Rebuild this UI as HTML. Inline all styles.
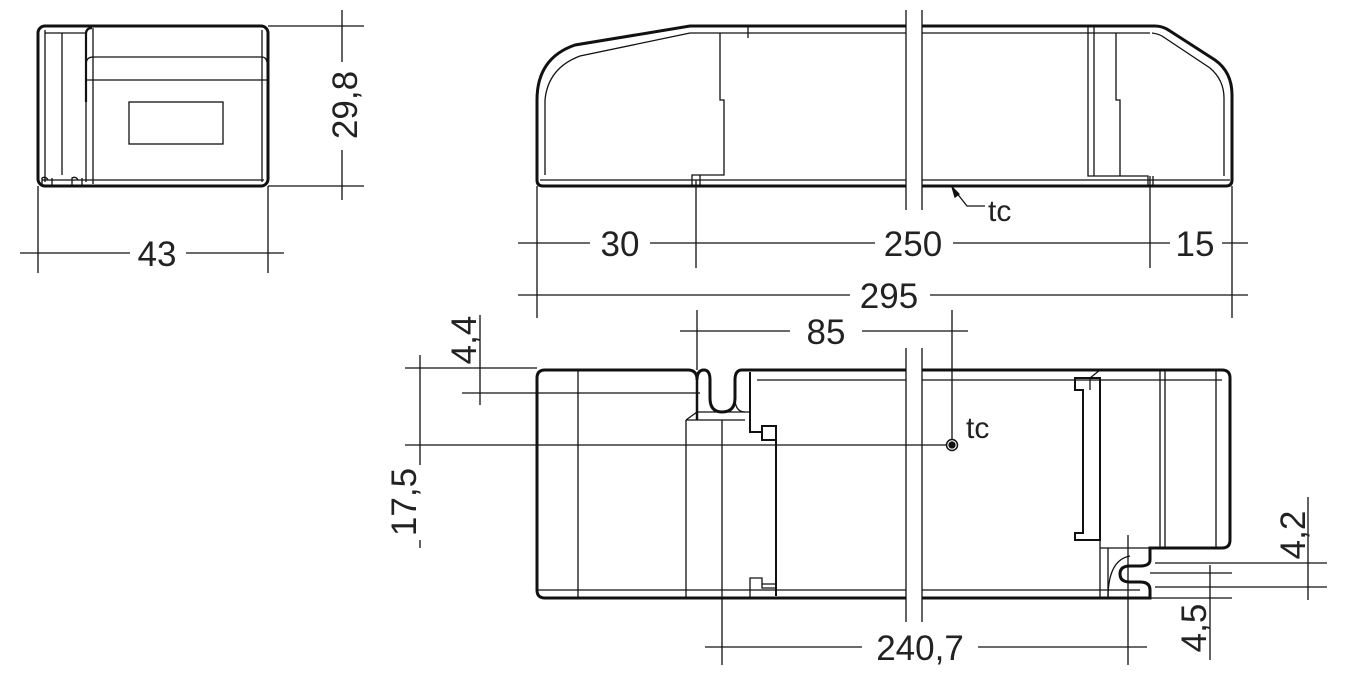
<!DOCTYPE html>
<html><head><meta charset="utf-8"><style>
html,body{margin:0;padding:0;background:#fff;}
svg{display:block}
text{font-family:"Liberation Sans",sans-serif;font-size:35px;fill:#222;}
</style></head><body>
<svg width="1351" height="698" viewBox="0 0 1351 698" xmlns="http://www.w3.org/2000/svg">
<g fill="none" stroke="#111" stroke-width="1.3">
<!-- LEFT END VIEW -->
<rect x="38" y="26" width="230" height="160" rx="7" stroke-width="3"/>
<line x1="45" y1="30" x2="45" y2="182"/>
<line x1="62" y1="33" x2="62" y2="175"/>
<line x1="45" y1="33" x2="85" y2="33"/>
<path d="M86 102 V34 Q86 28 92 28" stroke-width="2.2"/>
<line x1="86" y1="102" x2="86" y2="182"/>
<line x1="93" y1="28" x2="93" y2="184"/>
<line x1="262" y1="30" x2="262" y2="182"/>
<path d="M86 63 Q87 57 93 57 H262 Q266 57 267 62"/>
<line x1="86" y1="80" x2="267" y2="80"/>
<rect x="129" y="102" width="94" height="42"/>
<line x1="42" y1="180" x2="264" y2="180"/>
<path d="M42 186 V178 Q46 176 48 180 M52 186 V178 M72 186 V178 Q76 176 78 180 M82 186 V178"/>
<!-- dims left -->
<line x1="268" y1="26" x2="364" y2="26"/>
<line x1="268" y1="186" x2="364" y2="186"/>
<line x1="342" y1="10" x2="342" y2="62"/>
<line x1="342" y1="150" x2="342" y2="200"/>
<line x1="38" y1="186" x2="38" y2="273"/>
<line x1="268" y1="186" x2="268" y2="273"/>
<line x1="20" y1="253" x2="130" y2="253"/>
<line x1="186" y1="253" x2="284" y2="253"/>

<!-- TOP SIDE VIEW -->
<path d="M537 180 V100 Q537 58 575 45 L690 26 H1155 Q1163 26 1170 31 L1215 60 Q1232 72 1232 95 V180 Q1232 186 1226 186 H543 Q537 186 537 180 Z" stroke-width="3"/>
<path d="M545 175 V100 Q548 68 580 56 L690 33"/>
<line x1="690" y1="33" x2="1150" y2="33"/>
<path d="M1152 33 Q1160 34 1165 38 L1210 68 Q1224 80 1224 98 V176"/>
<line x1="540" y1="180" x2="1230" y2="180"/>
<path d="M720 33 V100 H724 V175 H692 V186 M696 180 V186 M700 175 V186"/>
<line x1="748" y1="26" x2="748" y2="38"/>
<path d="M1088 26 V176 H1148 V186 M1094 26 V176 M1116 33 V100 H1120 V176 M1150 176 V186 M1153 176 V186"/>
<!-- break -->
<rect x="906" y="0" width="16" height="215" fill="#fff" stroke="none"/>
<line x1="906" y1="10" x2="906" y2="210"/>
<line x1="922" y1="10" x2="922" y2="210"/>
<!-- tc leader -->
<path d="M952 187 L967 206 H985"/>
<path d="M952 187 L955 197 L959 194 Z" fill="#111"/>
<!-- dims top -->
<line x1="537" y1="186" x2="537" y2="318"/>
<line x1="1232" y1="186" x2="1232" y2="318"/>
<line x1="696" y1="186" x2="696" y2="268"/>
<line x1="1150" y1="186" x2="1150" y2="268"/>
<line x1="518" y1="243" x2="590" y2="243"/>
<line x1="650" y1="243" x2="875" y2="243"/>
<line x1="953" y1="243" x2="1170" y2="243"/>
<line x1="1222" y1="243" x2="1248" y2="243"/>
<line x1="518" y1="295" x2="850" y2="295"/>
<line x1="930" y1="295" x2="1248" y2="295"/>

<!-- BOTTOM VIEW -->
<path d="M545 370 H688 Q696 370 697 378 V380 Q697 370 704 370 Q710 370 710 380 V398 Q710 412 722 412 Q735 412 735 398 V380 Q735 370 742 370 H1222 Q1230 370 1230 378 V540 Q1230 548 1222 548 H1150 V560 Q1150 566 1140 566 H1130 Q1120 566 1120 574 Q1120 582 1130 582 H1140 Q1150 582 1150 590 V598 H545 Q537 598 537 590 V378 Q537 370 545 370 Z" stroke-width="3"/>
<path d="M697 378 V420" stroke-width="2.5"/>
<line x1="578" y1="370" x2="578" y2="598"/>
<line x1="686" y1="420" x2="686" y2="598"/>
<line x1="686" y1="420" x2="745" y2="420"/>
<path d="M697 412 L686 420 M697 412 H750"/>
<path d="M735 398 Q735 412 745 412"/>
<path d="M750 372 V432 H762 V426 H776 V596 M762 432 V440 H776" stroke-width="2"/>
<path d="M750 598 V578 H762 V584 H776 M762 578 V588 H776"/>
<line x1="757" y1="380" x2="1222" y2="380"/>
<line x1="537" y1="590" x2="1140" y2="590"/>
<path d="M1075 378 H1100 V540 H1075 V533 H1083 V390 H1075 Z" stroke-width="2"/>
<path d="M1090 378 L1100 370 M1090 378 V390"/>
<line x1="1100" y1="548" x2="1150" y2="548"/>
<path d="M1100 540 V598 M1108 548 V598"/>
<path d="M1108 598 Q1108 560 1130 556"/>
<line x1="1160" y1="370" x2="1160" y2="548"/>
<line x1="1165" y1="370" x2="1165" y2="548"/>
<line x1="1216" y1="370" x2="1216" y2="548"/>
<!-- break -->
<rect x="906" y="345" width="16" height="280" fill="#fff" stroke="none"/>
<line x1="906" y1="348" x2="906" y2="622"/>
<line x1="922" y1="348" x2="922" y2="622"/>
<!-- tc dot -->
<circle cx="952" cy="445" r="5.5" stroke-width="1.5"/>
<circle cx="952" cy="445" r="3" fill="#111"/>
<!-- dims bottom -->
<line x1="697" y1="310" x2="697" y2="370"/>
<line x1="952" y1="310" x2="952" y2="440"/>
<line x1="680" y1="331" x2="790" y2="331"/>
<line x1="862" y1="331" x2="968" y2="331"/>
<line x1="405" y1="368" x2="537" y2="368"/>
<line x1="462" y1="393" x2="700" y2="393"/>
<line x1="480" y1="315" x2="480" y2="405"/>
<line x1="405" y1="445" x2="946" y2="445"/>
<line x1="420" y1="355" x2="420" y2="465"/>
<line x1="420" y1="540" x2="420" y2="548"/>
<line x1="722" y1="420" x2="722" y2="665"/>
<line x1="1128" y1="535" x2="1128" y2="665"/>
<line x1="705" y1="647" x2="862" y2="647"/>
<line x1="978" y1="647" x2="1147" y2="647"/>
<line x1="1155" y1="563" x2="1327" y2="563"/>
<line x1="1155" y1="587" x2="1327" y2="587"/>
<line x1="1308" y1="497" x2="1308" y2="600"/>
<line x1="1150" y1="573" x2="1232" y2="573"/>
<line x1="1150" y1="598" x2="1232" y2="598"/>
<line x1="1210" y1="565" x2="1210" y2="660"/>
</g>
<g>
<text x="157" y="266" text-anchor="middle">43</text>
<text transform="translate(357,105) rotate(-90)" text-anchor="middle">29,8</text>
<text x="620" y="256" text-anchor="middle">30</text>
<text x="913" y="256" text-anchor="middle">250</text>
<text x="1195" y="256" text-anchor="middle">15</text>
<text x="889" y="308" text-anchor="middle">295</text>
<text x="988" y="221" style="font-size:30px">tc</text>
<text x="826" y="344" text-anchor="middle">85</text>
<text x="966" y="438" style="font-size:30px">tc</text>
<text transform="translate(476,340) rotate(-90)" text-anchor="middle">4,4</text>
<text transform="translate(416,502) rotate(-90)" text-anchor="middle">17,5</text>
<text x="920" y="660" text-anchor="middle">240,7</text>
<text transform="translate(1305,535) rotate(-90)" text-anchor="middle">4,2</text>
<text transform="translate(1206,628) rotate(-90)" text-anchor="middle">4,5</text>
</g>
</svg>
</body></html>
